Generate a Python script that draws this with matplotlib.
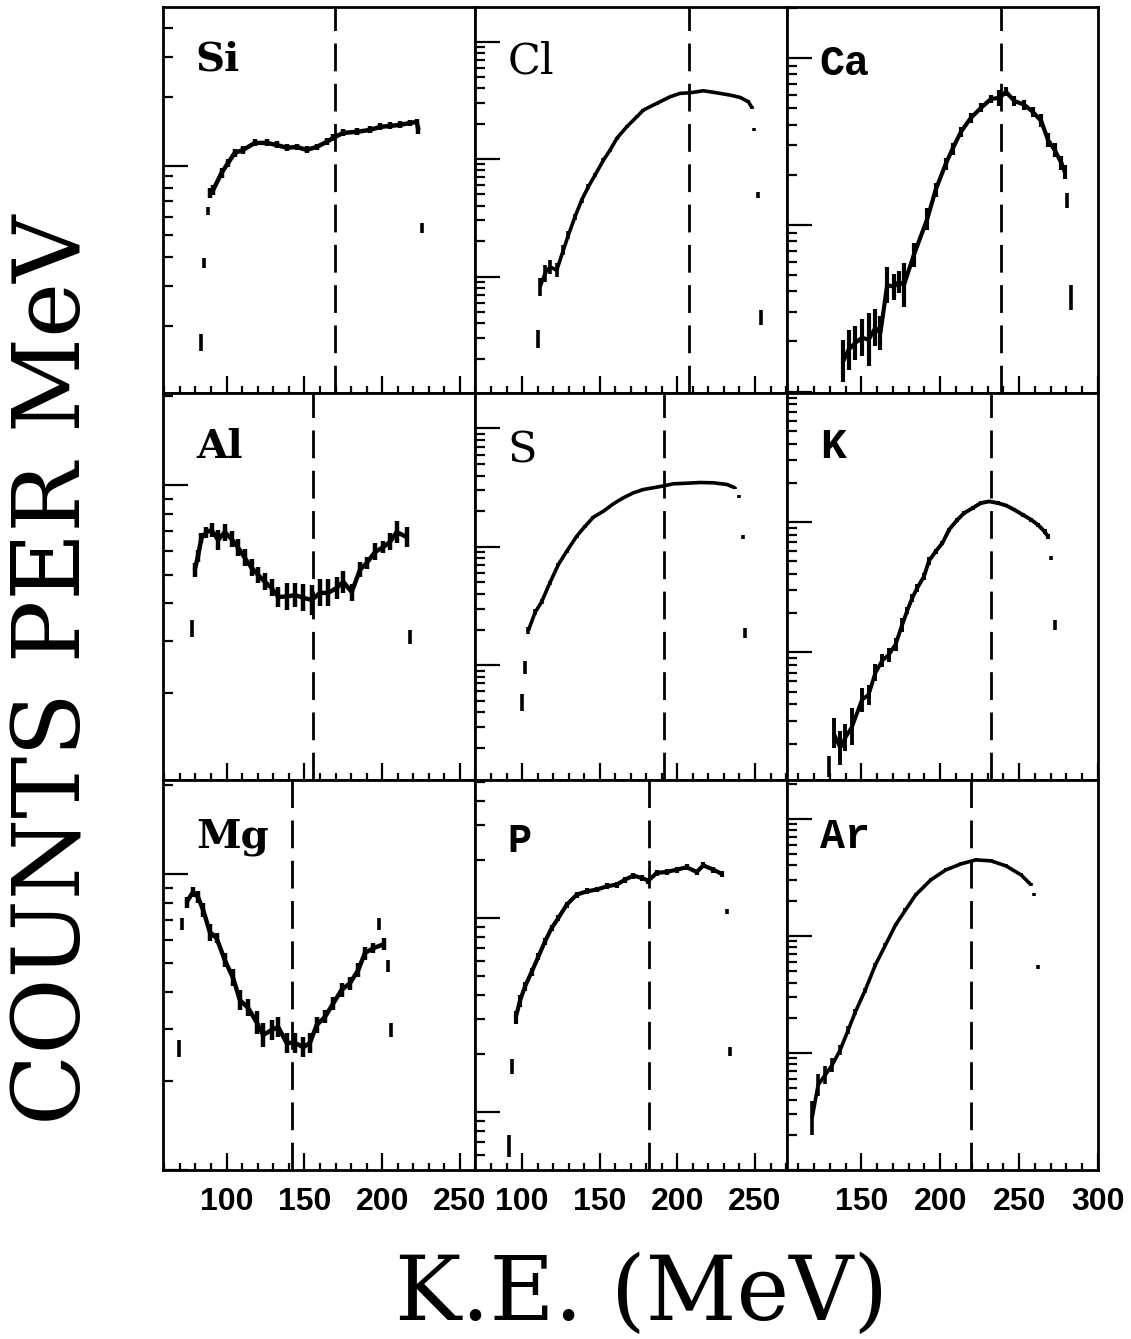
import matplotlib
matplotlib.use("Agg")
import matplotlib.pyplot as plt
import numpy as np
from matplotlib.ticker import MultipleLocator, LogLocator, NullFormatter

# ---------------- data (y in arbitrary counts/MeV) -------------
# Row 1
si_E = [89.3, 91.4, 96.8, 101, 105.3, 110.7, 118.2, 125.7, 132.2, 138.6, 145, 151.4, 157.9,
        164.3, 168.6, 175, 183.6, 192.2, 198.6, 205, 211.4, 217.9, 222.2, 223.2]
si_Y = [76.2, 78.5, 93.2, 103, 114, 117.5, 126, 126, 123.5, 120, 121, 117.5, 121,
        127.3, 132.6, 139.4, 140.8, 143.6, 148, 149.5, 151, 154, 155.6, 143.6]
si_err = [0.05, 0.05, 0.05, 0.045, 0.04, 0.04, 0.035, 0.035, 0.035, 0.035, 0.035, 0.035, 0.035,
          0.035, 0.035, 0.035, 0.035, 0.035, 0.035, 0.035, 0.035, 0.035, 0.035, 0.04]
si_isoE = [83.9, 85.6, 88.2, 225.4]
si_isoY = [16.9, 37.7, 63.6, 53.6]
si_isoErr = [0.09, 0.05, 0.04, 0.05]

cl_E = [111.6, 114.8, 118, 122.3, 126.6, 129.8, 134.1, 138.4, 142.7, 147, 152.4, 156.7, 161,
        167.4, 173.9, 178.1, 186.7, 195.3, 201.7, 208.2, 216.7, 225.3, 233.9, 240.4, 245.7, 247.9]
cl_Y = [81.5, 106, 121, 113, 168, 225, 323, 448, 581, 731, 980, 1193, 1500,
        1883, 2291, 2612, 2979, 3390, 3625, 3665, 3814, 3665, 3505, 3350, 3076, 2754]
cl_err = [0.2, 0.18, 0.15, 0.15, 0.1, 0.08, 0.06, 0.05, 0.05, 0.04, 0.04, 0.03, 0.03,
          0.03, 0.03, 0.03, 0.025, 0.025, 0.025, 0.025, 0.025, 0.025, 0.025, 0.025, 0.025, 0.025]
cl_isoE = [110.1, 249.4, 251.7, 253.7]
cl_isoY = [29.4, 1790, 494, 44.8]
cl_isoErr = [0.19, 0.03, 0.07, 0.16]

ca_E = [138.7, 141.9, 146.2, 150.4, 154.6, 158.9, 162.1, 166.4, 170.6, 173.8, 177, 183.3,
        191.8, 197.1, 203.5, 207.8, 213.1, 219.4, 225.8, 232.2, 237.5, 241.7, 247, 253.4,
        258.7, 264, 268.3, 272.5, 276.8, 278.9]
ca_Y = [153, 178, 196, 210, 205, 241, 225, 436, 425, 455, 436, 661,
        1086, 1622, 2323, 2858, 3614, 4385, 5035, 5702, 5780, 6281, 5546, 5248,
        4764, 4207, 3236, 2818, 2355, 2080]
ca_err = [0.34, 0.32, 0.26, 0.29, 0.45, 0.29, 0.26, 0.28, 0.2, 0.17, 0.35, 0.18,
          0.16, 0.1, 0.09, 0.09, 0.07, 0.07, 0.065, 0.06, 0.12, 0.065, 0.07, 0.07,
          0.07, 0.095, 0.1, 0.1, 0.1, 0.1]
ca_isoE = [280.6, 282.7]
ca_isoY = [1393, 365]
ca_isoErr = [0.11, 0.19]

# Row 2
al_E = [79.6, 81.7, 83.9, 87.1, 90.4, 94.6, 98.9, 103.2, 107.5, 111.8, 116.1, 120.3, 124.6,
        128.9, 133.2, 138.6, 143.9, 149.3, 154.7, 160, 165.3, 170.7, 175, 180.4, 185.7, 190,
        195.4, 200.7, 205, 209.3, 215.8]
al_Y = [51.9, 57.8, 66.4, 69.5, 70.6, 65.4, 69.5, 65.9, 61.5, 56.9, 52.7, 49.9, 47.3,
        45.1, 42.1, 42.2, 42.7, 41.8, 41.1, 43.4, 43.4, 45.1, 47.3, 43.7, 51.9, 54.7,
        59.6, 61.9, 64.4, 69.5, 66.9]
al_err = [0.055, 0.047, 0.04, 0.044, 0.055, 0.08, 0.068, 0.06, 0.068, 0.068, 0.068, 0.064, 0.068,
          0.068, 0.08, 0.11, 0.1, 0.11, 0.12, 0.11, 0.11, 0.09, 0.09, 0.068, 0.06, 0.05,
          0.068, 0.05, 0.068, 0.09, 0.08]
al_isoE = [77.9, 217.9]
al_isoY = [33.0, 30.9]
al_isoErr = [0.07, 0.055]

s_E = [104.1, 108.4, 112.7, 118, 123.4, 128.8, 135.2, 140.6, 145.9, 152.4, 158.8, 165.2,
       171.7, 178.1, 184.5, 189.9, 197.4, 206, 214.6, 223.2, 231.8, 237.2]
s_Y = [197, 279, 345, 499, 709, 918, 1230, 1493, 1780, 2000, 2309, 2595,
       2860, 3050, 3155, 3250, 3408, 3448, 3496, 3475, 3365, 3155]
s_err = [0.07, 0.06, 0.05, 0.04, 0.035, 0.03, 0.03, 0.03, 0.03, 0.025, 0.025, 0.025,
         0.025, 0.025, 0.025, 0.025, 0.025, 0.025, 0.025, 0.025, 0.025, 0.025]
s_isoE = [99.8, 101.9, 239.9, 242.1, 243.6]
s_isoY = [48.3, 95.5, 2680, 1215, 187.5]
s_isoErr = [0.18, 0.14, 0.03, 0.04, 0.1]

k_E = [132.4, 136.6, 139.8, 144.1, 150.4, 154.6, 158.9, 163.2, 167.4, 171.7, 175.9, 179.1,
       182.3, 185.5, 189.7, 192.9, 197.1, 201.4, 205.6, 210.9, 215.2, 220.5, 225.8, 231.1,
       236.4, 241.7, 247, 252.3, 257.6, 261.9, 266.1, 268.3]
k_Y = [24.2, 18.5, 22.1, 26.9, 43.3, 47.3, 69.7, 86.3, 95.9, 115, 163, 209,
       262, 313, 382, 505, 595, 690, 873, 1042, 1172, 1280, 1400, 1439,
       1400, 1341, 1242, 1138, 1042, 953, 847, 776]
k_err = [0.3, 0.34, 0.27, 0.39, 0.24, 0.19, 0.16, 0.12, 0.13, 0.13, 0.13, 0.07,
         0.07, 0.07, 0.055, 0.07, 0.04, 0.04, 0.04, 0.035, 0.035, 0.03, 0.03, 0.03,
         0.03, 0.03, 0.03, 0.035, 0.035, 0.035, 0.04, 0.04]
k_isoE = [129.8, 270.4, 272.5]
k_isoY = [13.3, 530, 163]
k_isoErr = [0.2, 0.03, 0.09]

# Row 3
mg_E = [74.3, 78.5, 81.7, 85, 89.3, 93.6, 98.9, 104.2, 108.6, 113.9, 119.3, 123.5, 128.9,
        133.2, 138.6, 143.9, 149.3, 153.6, 157.9, 163.2, 168.6, 173.9, 179.3, 184.6, 188.9,
        194.3, 201.2]
mg_Y = [80.4, 86.9, 83.6, 75.6, 63.7, 60.8, 51.2, 44.6, 37.5, 35.3, 31.6, 28.6, 29.7,
        30.4, 26.9, 26.9, 26.0, 26.9, 30.9, 32.9, 36.6, 40.6, 42.8, 47.4, 54.1,
        56.2, 58]
mg_err = [0.044, 0.04, 0.05, 0.056, 0.068, 0.04, 0.056, 0.068, 0.08, 0.068, 0.093, 0.098, 0.08,
          0.08, 0.08, 0.08, 0.08, 0.08, 0.064, 0.052, 0.052, 0.056, 0.052, 0.056, 0.052,
          0.04, 0.048]
mg_isoE = [69.5, 71.7, 197.9, 203.9, 205.4]
mg_isoY = [25.8, 67.8, 67.8, 48.9, 29.7]
mg_isoErr = [0.07, 0.05, 0.05, 0.045, 0.055]

p_E = [95.9, 98.7, 101.9, 106.2, 110.5, 114.8, 119.1, 123.4, 128.8, 135.2, 141.7, 148.1,
       154.5, 161, 166.3, 171.7, 177.1, 181.3, 186.7, 193.2, 199.6, 206, 212.5, 216.7,
       223.2, 228.6]
p_Y = [306, 375, 443, 528, 631, 758, 888, 1000, 1171, 1318, 1371, 1400,
       1455, 1485, 1575, 1652, 1607, 1557, 1706, 1726, 1774, 1824, 1726, 1866,
       1774, 1686]
p_err = [0.08, 0.074, 0.06, 0.05, 0.04, 0.04, 0.04, 0.035, 0.035, 0.035, 0.035, 0.035,
         0.035, 0.035, 0.035, 0.035, 0.035, 0.035, 0.035, 0.035, 0.035, 0.035, 0.035, 0.035,
         0.035, 0.035]
p_isoE = [91.8, 93.8, 231.8, 233.9]
p_isoY = [67, 171, 1081, 205]
p_isoErr = [0.14, 0.09, 0.03, 0.06]

ar_E = [118.8, 122.6, 127.1, 131.5, 136.6, 141.7, 146.2, 152.5, 158.9, 165.3, 171.7, 178,
        184.4, 194, 203.5, 213.1, 222.6, 232.2, 241.7, 251.3, 257.6]
ar_Y = [27.8, 53.2, 64.9, 78.9, 106, 157, 224, 345, 565, 837, 1242, 1667,
        2239, 3010, 3664, 4121, 4465, 4380, 3966, 3320, 2730]
ar_err = [0.4, 0.25, 0.2, 0.15, 0.1, 0.08, 0.06, 0.05, 0.04, 0.03, 0.03, 0.03,
          0.03, 0.03, 0.03, 0.03, 0.03, 0.03, 0.03, 0.03, 0.03]
ar_isoE = [259.6, 262.1]
ar_isoY = [2240, 543]
ar_isoErr = [0.03, 0.04]

element_names = ["Si", "Cl", "Ca", "Al", "S", "K", "Mg", "P", "Ar"]
dashed_E = [169.6, 207.7, 238.5, 155.7, 191.6, 232.2, 141.8, 182.0, 219.4]
y_limits = [(10.2, 494), (10.2, 19700), (98, 20300),
            (10.2, 204), (10.7, 19950), (10.5, 9770),
            (10, 208), (50.2, 5140), (10, 21500)]
x_limits = [(59.2, 259.6), (69.7, 270.6), (102.9, 300.0)]
x_label = "K.E. (MeV)"
y_label = "COUNTS PER MeV"

series = [
    (si_E, si_Y, si_err, si_isoE, si_isoY, si_isoErr),
    (cl_E, cl_Y, cl_err, cl_isoE, cl_isoY, cl_isoErr),
    (ca_E, ca_Y, ca_err, ca_isoE, ca_isoY, ca_isoErr),
    (al_E, al_Y, al_err, al_isoE, al_isoY, al_isoErr),
    (s_E, s_Y, s_err, s_isoE, s_isoY, s_isoErr),
    (k_E, k_Y, k_err, k_isoE, k_isoY, k_isoErr),
    (mg_E, mg_Y, mg_err, mg_isoE, mg_isoY, mg_isoErr),
    (p_E, p_Y, p_err, p_isoE, p_isoY, p_isoErr),
    (ar_E, ar_Y, ar_err, ar_isoE, ar_isoY, ar_isoErr),
]

# label styles
label_fonts = {
    "Si": dict(family="DejaVu Serif", weight="bold", size=29),
    "Al": dict(family="DejaVu Serif", weight="bold", size=29),
    "Mg": dict(family="DejaVu Serif", weight="bold", size=29),
    "Cl": dict(family="DejaVu Serif", weight="normal", size=31),
    "S": dict(family="DejaVu Serif", weight="normal", size=31),
    "Ca": dict(family="Liberation Mono", weight="bold", size=30),
    "K": dict(family="Liberation Mono", weight="bold", size=31),
    "P": dict(family="Liberation Mono", weight="bold", size=29),
    "Ar": dict(family="Liberation Mono", weight="bold", size=30),
}
label_y = {"Si": 0.912, "Cl": 0.912, "Ca": 0.905, "Al": 0.91, "S": 0.905, "K": 0.912,
           "Mg": 0.903, "P": 0.893, "Ar": 0.905}
# heavier bands for the noisy spectra
line_w = [3.2, 2.6, 3.0, 3.2, 2.6, 2.8, 3.2, 3.0, 2.6]

# ---------------- figure ----------------
W, H = 1131, 1339
fig = plt.figure(figsize=(W / 100, H / 100), dpi=100)

col_left = [163, 475, 787]
col_w = [312, 312, 311]
row_top = [7, 393, 780]
row_bot = [393, 780, 1170]

for idx in range(9):
    r, c = divmod(idx, 3)
    x0 = col_left[c]
    ax = fig.add_axes([x0 / W, 1 - row_bot[r] / H, col_w[c] / W, (row_bot[r] - row_top[r]) / H])
    E, Y, err, iE, iY, iErr = series[idx]
    E = np.array(E); Y = np.array(Y); err = np.array(err)
    iE = np.array(iE); iY = np.array(iY); iErr = np.array(iErr)

    ax.set_yscale("log")
    ax.set_xlim(*x_limits[c])
    ax.set_ylim(*y_limits[idx])

    lw = line_w[idx]
    ax.plot(E, Y, color="black", lw=lw, solid_capstyle="butt", zorder=3)
    ax.vlines(E, Y / (1 + err), Y * (1 + err), color="black", lw=lw, zorder=3)
    ax.vlines(iE, iY / (1 + iErr), iY * (1 + iErr), color="black", lw=2.6, zorder=3)

    ax.axvline(dashed_E[idx], color="black", lw=2.0, linestyle=(0, (10, 4.5)), zorder=2)

    name = element_names[idx]
    ax.text(0.105, label_y[name], name, transform=ax.transAxes, ha="left", va="top",
            color="black", **label_fonts[name])

    # ticks
    ax.xaxis.set_major_locator(MultipleLocator(50))
    ax.xaxis.set_minor_locator(MultipleLocator(10))
    ax.yaxis.set_major_locator(LogLocator(base=10, numticks=10))
    ax.yaxis.set_minor_locator(LogLocator(base=10, subs=np.arange(2, 10), numticks=20))
    ax.yaxis.set_major_formatter(NullFormatter())
    ax.yaxis.set_minor_formatter(NullFormatter())
    ax.tick_params(axis="x", which="major", direction="in", length=12, width=1.6,
                   top=False, bottom=True, labelbottom=(r == 2), pad=12)
    ax.tick_params(axis="x", which="minor", direction="in", length=5, width=1.6,
                   top=False, bottom=True)
    ax.tick_params(axis="y", which="major", direction="in", length=18, width=1.6,
                   left=True, right=False, labelleft=False)
    ax.tick_params(axis="y", which="minor", direction="in", length=7, width=1.6,
                   left=True, right=False)
    for lab in ax.get_xticklabels():
        lab.set_fontfamily("Liberation Sans")
        lab.set_fontweight("bold")
        lab.set_fontsize(23)
    for sp in ax.spines.values():
        sp.set_linewidth(2.0)

fig.text(55 / W, 1 - 670 / H, y_label, rotation=90, ha="center", va="center",
         family="DejaVu Serif", fontsize=67, color="black")
fig.text(642 / W, 1 - 1295 / H, x_label, ha="center", va="center",
         family="DejaVu Serif", fontsize=64, color="black")

fig.savefig("out.png", dpi=100, facecolor="white")
